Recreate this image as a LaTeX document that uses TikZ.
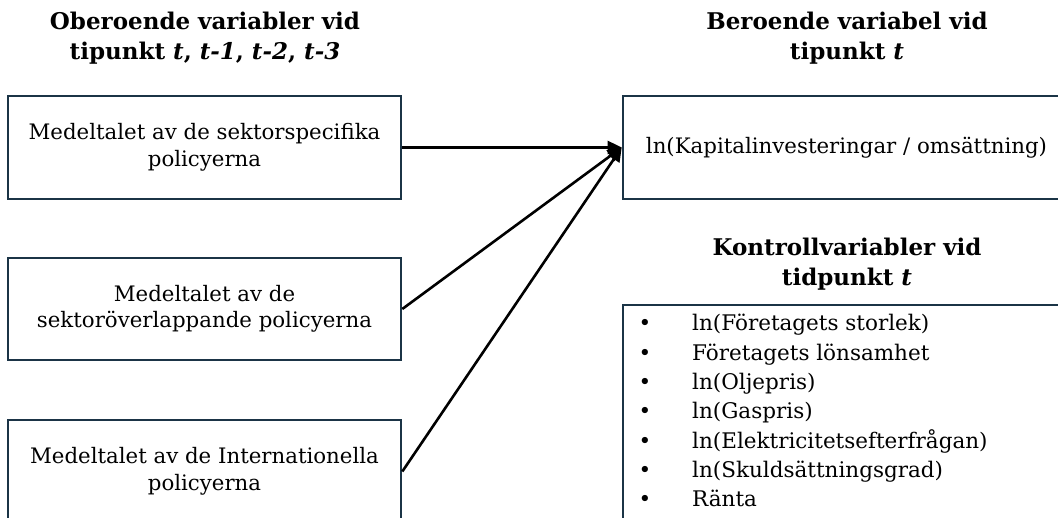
\documentclass[tikz,border=0pt]{standalone}
\usepackage{fontspec}
\setmainfont{DejaVu Serif}
\usetikzlibrary{arrows.meta}
\definecolor{boxline}{HTML}{1B3446}
\tikzset{
  vbox/.style={draw=boxline, line width=2.6pt, minimum width=393pt, inner sep=0pt, align=center, font=\fontsize{21.3}{26.5}\selectfont},
  head/.style={align=center, font=\bfseries\fontsize{23}{29.5}\selectfont, inner sep=0pt},
  conn/.style={line width=2.6pt, -{Triangle[length=14pt,width=13pt]}},
  item/.style={anchor=base west, inner sep=0pt, font=\fontsize{21.5}{26}\selectfont}
}
\begin{document}
\begin{tikzpicture}[x=1pt,y=1pt]
\useasboundingbox (0,0) rectangle (1058,-518);
\clip (0,0) rectangle (1058,-518);
\fill[white] (0,0) rectangle (1058,-518);
% headings
\node[head] (h1) at (205,-38) {Oberoende variabler vid\\tipunkt \textit{t}, \textit{t-1}, \textit{t-2}, \textit{t-3}};
\node[head] (h2) at (847,-38) {Beroende variabel vid\\tipunkt \textit{t}};
\node[head] (h3) at (847,-264) {Kontrollvariabler vid\\tidpunkt \textit{t}};
% left boxes
\node[vbox, minimum height=103pt] (b1) at (204.5,-147.5) {Medeltalet av de sektorspecifika\\policyerna};
\node[vbox, minimum height=102pt] (b2) at (204.5,-309) {Medeltalet av de\\sektoröverlappande policyerna};
\node[vbox, minimum height=103pt] (b3) at (204.5,-471.5) {Medeltalet av de Internationella\\policyerna};
% right boxes
\node[vbox, minimum width=447pt, minimum height=103pt] (dep) at (846.5,-147.5) {ln(Kapitalinvesteringar / omsättning)};
\node[draw=boxline, line width=2.6pt, minimum width=447pt, minimum height=240pt, inner sep=0pt] (ctrl) at (846.5,-425) {};
% list
\foreach \t [count=\i] in {ln(Företagets storlek),Företagets lönsamhet,ln(Oljepris),ln(Gaspris),ln(Elektricitetsefterfrågan),ln(Skuldsättningsgrad),Ränta}{
  \node[item] (c\i) at (692,{-331-29.3*(\i-1)}) {\t};
  \node[item, anchor=base] (d\i) at (645,{-331-29.3*(\i-1)}) {•};
}
% connectors
\draw[conn] (b1.east) -- (dep.west);
\draw[conn] (b2.east) -- (dep.west);
\draw[conn] (b3.east) -- (dep.west);
\end{tikzpicture}
\end{document}
